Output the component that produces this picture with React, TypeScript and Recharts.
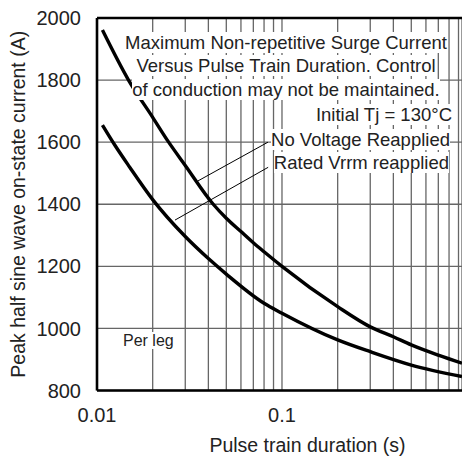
import { LineChart, Line, XAxis, YAxis, CartesianGrid, ReferenceLine } from 'recharts'

// pulse train duration (s) -> peak current (A)
const noVoltageDurations = [0.0107, 0.0148, 0.02, 0.0244, 0.03, 0.0425, 0.05, 0.06, 0.07, 0.08, 0.1, 0.2, 0.3, 0.4, 0.5, 0.7, 0.94]
const noVoltageAmps = [1961, 1800, 1680, 1600, 1525, 1400, 1355, 1312, 1276, 1247, 1200, 1070, 1005, 973, 947, 914, 888]

const ratedVrrmDurations = [0.0107, 0.0125, 0.015, 0.02, 0.03, 0.04, 0.05, 0.08, 0.1, 0.2, 0.3, 0.5, 0.94]
const ratedVrrmAmps = [1655, 1590, 1520, 1415, 1296, 1225, 1175, 1081, 1049, 963, 925, 882, 845]

const xTicks = [0.01, 0.02, 0.03, 0.04, 0.05, 0.06, 0.07, 0.08, 0.09, 0.1, 0.2, 0.3, 0.4, 0.5, 0.6, 0.7, 0.8, 0.9]
const xTickLabels: Record<number, string> = { 0.01: '0.01', 0.1: '0.1' }
const yTicks = [800, 1000, 1200, 1400, 1600, 1800, 2000]

const noteLines = [
  'Maximum Non-repetitive Surge Current',
  'Versus Pulse Train Duration. Control',
  'of conduction may not be maintained.',
]

const FONT = '"Liberation Sans", Arial, sans-serif'
const TEXT = '#222'

const noVoltage = noVoltageDurations.map((t, i) => ({ t, a: noVoltageAmps[i] }))
const ratedVrrm = ratedVrrmDurations.map((t, i) => ({ t, a: ratedVrrmAmps[i] }))

// one line of annotation text with a white box behind the glyphs
const Note = ({ text, baseline, left, right, width, align, size = 18.5 }: {
  text: string; baseline: number; left?: number; right?: number; width?: number
  align: 'left' | 'center' | 'right'; size?: number
}) => (
  <div style={{
    position: 'absolute', top: baseline - size * 0.865, left, right, width,
    textAlign: align, fontSize: size, lineHeight: `${size}px`, whiteSpace: 'nowrap',
  }}>
    <span style={{ background: '#fff', color: TEXT }}>{text}</span>
  </div>
)

export default function App() {
  return (
    <div style={{ position: 'absolute', top: 0, left: 0, width: 462, height: 457, fontFamily: FONT, overflow: 'hidden' }}>
      <LineChart width={462} height={457} margin={{ top: 18, right: 0, bottom: 0, left: 0 }}>
        <CartesianGrid stroke="#666" strokeWidth={1.3} />
        <XAxis
          dataKey="t"
          type="number"
          scale="log"
          domain={[0.01, 0.94]}
          allowDataOverflow
          ticks={xTicks}
          tickFormatter={(v: number) => xTickLabels[v] ?? ''}
          interval={0}
          height={66.5}
          tickLine={false}
          tickSize={0}
          tickMargin={17}
          axisLine={{ stroke: '#000', strokeWidth: 2.6 }}
          tick={{ fontSize: 20, fill: TEXT, fontFamily: FONT }}
          label={{ value: 'Pulse train duration (s)', position: 'insideBottom', offset: 5, dx: 28, fontSize: 19.5, fill: TEXT, fontFamily: FONT }}
        />
        <YAxis
          type="number"
          domain={[800, 2000]}
          ticks={yTicks}
          interval={0}
          width={97}
          tickLine={false}
          tickSize={0}
          tickMargin={16}
          axisLine={{ stroke: '#000', strokeWidth: 2.6 }}
          tick={{ fontSize: 20, fill: TEXT, fontFamily: FONT }}
          label={{ value: 'Peak half sine wave on-state current (A)', angle: -90, position: 'insideLeft', offset: 22, dx: -4, fontSize: 19.5, fill: TEXT, fontFamily: FONT, style: { textAnchor: 'middle' } }}
        />
        <ReferenceLine y={2000} stroke="#000" strokeWidth={2.6} />
        <Line data={noVoltage} dataKey="a" type="monotone" stroke="#000" strokeWidth={3.4} dot={false} isAnimationActive={false} />
        <Line data={ratedVrrm} dataKey="a" type="monotone" stroke="#000" strokeWidth={3.4} dot={false} isAnimationActive={false} />
        {/* leaders from the labels to their curves */}
        <ReferenceLine segment={[{ x: 0.084, y: 1600 }, { x: 0.0351, y: 1475 }]} stroke="#000" strokeWidth={1} />
        <ReferenceLine segment={[{ x: 0.0842, y: 1519 }, { x: 0.0264, y: 1349 }]} stroke="#000" strokeWidth={1} />
      </LineChart>

      {noteLines.map((line, i) => (
        <Note key={line} text={line} baseline={50 + i * 23.5} left={86} width={400} align="center" />
      ))}
      <Note text="Initial Tj = 130°C" baseline={122} right={462 - 452} align="right" />
      <Note text="No Voltage Reapplied" baseline={147} right={462 - 450} align="right" />
      <Note text="Rated Vrrm reapplied" baseline={170.5} right={462 - 449} align="right" />
      <Note text="Per leg" baseline={347} left={123} align="left" size={16} />
    </div>
  )
}
